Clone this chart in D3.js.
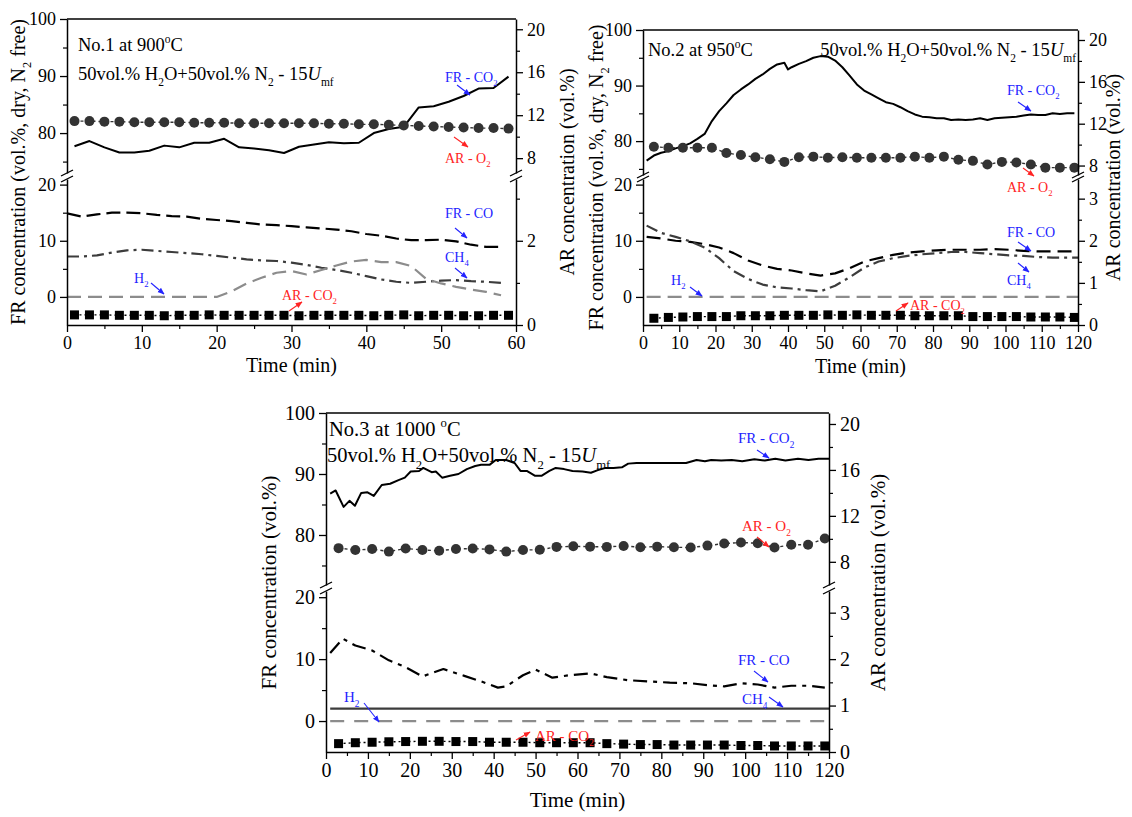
<!DOCTYPE html>
<html>
<head>
<meta charset="utf-8">
<script src="https://cdn.jsdelivr.net/npm/d3@7"></script>
<style>
  html, body { margin: 0; padding: 0; background: #fff; }
  svg { display: block; font-family: "Liberation Serif", "Times New Roman", serif; }
</style>
</head>
<body>
<svg id="fig" width="1132" height="817"></svg>
<script>
// ---------- No.1 at 900 °C ----------
const time1 = [1,3,5,7,9,11,13,15,17,19,21,23,25,27,29,31,33,35,37,39,41,43,45,47,49,51,53,55,57,59];
const fr1CO2 = [77.7,78.6,77.5,76.6,76.6,76.9,77.8,77.5,78.3,78.3,79.0,77.5,77.3,77.0,76.5,77.6,78.0,78.4,78.2,78.3,80.0,80.7,81.1,84.5,84.7,85.5,86.5,87.8,87.9,89.9];
const ar1O2 = [11.45,11.45,11.4,11.4,11.35,11.35,11.35,11.35,11.3,11.3,11.3,11.25,11.25,11.25,11.25,11.25,11.25,11.2,11.2,11.15,11.15,11.1,11.05,11.0,10.95,10.9,10.85,10.8,10.8,10.75];
const ar1CO2 = [0.24,0.24,0.24,0.23,0.23,0.23,0.22,0.23,0.23,0.24,0.23,0.23,0.23,0.23,0.23,0.22,0.23,0.23,0.23,0.23,0.22,0.23,0.24,0.22,0.23,0.23,0.22,0.22,0.23,0.23];
const time1FR = [0,2,4,6,8,10,12,14,16,18,20,22,24,26,28,30,32,34,36,38,40,42,44,46,48,50,52,54,56,58];
const fr1CO = [14.9,14.3,14.7,15.0,15.0,14.9,14.6,14.4,14.3,13.9,13.7,13.5,13.2,12.9,12.8,12.6,12.4,12.2,12.0,11.7,11.2,10.9,10.4,10.1,10.1,10.2,9.9,9.3,8.9,8.9];
const fr1CH4 = [7.2,7.2,7.4,7.9,8.3,8.4,8.2,8.0,7.8,7.6,7.3,7.0,6.7,6.5,6.4,6.1,5.7,5.2,4.8,4.3,3.7,3.1,2.7,2.5,2.7,2.9,3.0,2.8,2.7,2.5];
const fr1H2 = [0,0,0,0,0,0,0,0,0,0,0,1.0,2.4,3.4,4.3,4.6,4.0,4.8,5.6,6.3,6.6,6.2,6.2,5.5,3.2,2.4,1.8,1.3,0.9,0.3];

// ---------- No.2 at 950 °C ----------
const time2CO2 = [1,3,5,7,9,11,13,15,17,19,21,23,25,27,29,31,33,35,37,39,40,41,43,45,47,49,51,53,55,57,59,61,63,65,67,69,71,73,75,77,79,81,83,85,87,89,91,93,95,97,99,101,103,105,107,109,111,113,115,117,119];
const fr2CO2 = [76.5,77.4,77.9,78.2,78.7,79.1,79.6,80.4,81.3,83.6,85.4,86.8,88.3,89.3,90.2,91.2,92.0,93.0,93.8,94.1,92.9,93.3,93.9,94.4,95.0,95.3,95.2,94.5,93.3,91.8,90.2,89.1,88.4,87.7,87.0,86.7,86.1,85.4,84.8,84.4,84.3,84.1,84.1,83.8,83.9,83.8,83.9,84.1,83.8,84.1,84.2,84.3,84.4,84.6,84.8,84.7,84.7,85.0,84.9,85.0,85.0];
const time2AR = [3,7,11,15,19,23,27,31,35,39,43,47,51,55,59,63,67,71,75,79,83,87,91,95,99,103,107,111,115,119];
const ar2O2 = [9.8,9.7,9.7,9.7,9.7,9.2,9.0,8.8,8.6,8.35,8.8,8.85,8.75,8.8,8.75,8.75,8.75,8.75,8.85,8.75,8.85,8.55,8.45,8.1,8.35,8.3,8.1,7.8,7.8,7.8];
const ar2CO2 = [0.16,0.18,0.19,0.20,0.20,0.20,0.22,0.22,0.22,0.23,0.23,0.23,0.24,0.23,0.24,0.23,0.23,0.23,0.22,0.22,0.22,0.22,0.20,0.20,0.20,0.20,0.19,0.19,0.19,0.18];
const time2FR = [1,5,9,13,17,21,25,29,33,37,41,45,49,53,57,61,65,69,73,77,81,85,89,93,97,101,105,109,113,117,120];
const fr2CO = [10.7,10.4,10.0,9.8,9.4,8.8,7.8,6.5,5.6,5.0,4.7,4.2,3.8,4.2,5.1,6.3,6.9,7.5,7.9,8.1,8.3,8.4,8.4,8.4,8.5,8.4,8.2,8.1,8.1,8.1,8.1];
const fr2CH4 = [12.7,11.4,10.7,9.9,8.8,6.9,4.6,3.2,2.2,1.7,1.5,1.2,1.0,2.0,3.5,5.2,6.3,6.9,7.3,7.6,7.8,8.0,8.0,7.8,7.6,7.4,7.3,7.1,7.0,7.0,7.0];
const time2H2 = [1,120];
const fr2H2 = [0,0];

// ---------- No.3 at 1000 °C ----------
const time3CO2 = [1,2.3,4.2,5.6,6.9,8.4,9.9,11.4,13.3,15.3,17.3,18.8,20.2,22.2,23.2,25.2,26.2,27.7,29.6,31.6,33.6,35.6,37,39,40.5,43,45,46.4,47.9,49.9,51.4,53.3,54.8,56.8,58.8,61.2,63.2,64.7,66.7,68.6,70.6,72.1,74.1,76,78.5,82.5,85.9,88.4,90.4,91.9,94.3,96.8,99.3,102.2,104.7,107.2,109.6,112.6,115.1,117.5,120];
const fr3CO2 = [86.8,87.3,84.6,85.6,84.8,86.9,87.0,86.4,88.2,88.4,89.0,89.4,90.4,90.5,91.0,90.3,90.4,89.4,89.7,90.0,90.8,91.3,91.5,91.5,92.3,92.3,91.8,90.5,90.5,89.7,89.7,90.5,91.0,90.8,90.5,90.4,90.2,90.6,91.0,91.0,91.1,91.7,91.8,91.8,91.8,91.8,91.8,92.3,92.1,92.3,92.2,92.3,92.1,92.4,92.2,92.5,92.2,92.5,92.3,92.5,92.5];
const time3AR = [3,7,11,15,19,23,27,31,35,39,43,47,51,55,59,63,67,71,75,79,83,87,91,95,99,103,107,111,115,119];
const ar3O2 = [9.19,9.03,9.11,8.89,9.16,9.03,8.97,9.11,9.16,9.08,8.89,9.03,9.05,9.30,9.35,9.32,9.30,9.38,9.27,9.32,9.27,9.24,9.41,9.59,9.68,9.62,9.24,9.49,9.49,10.03];
const ar3CO2 = [0.18,0.20,0.21,0.22,0.225,0.23,0.23,0.225,0.225,0.21,0.21,0.21,0.20,0.20,0.20,0.20,0.18,0.17,0.16,0.16,0.15,0.15,0.15,0.15,0.14,0.14,0.13,0.13,0.13,0.13];
const time3CO = [1,4,7,11,15,19,23,28,33,37,41,43,47,50,54,58,63,67,72,77,82,87,91,95,99,103,107,111,115,119];
const fr3CO = [11.0,13.3,12.2,11.4,9.8,8.7,7.2,8.4,7.3,6.4,5.4,5.6,7.4,8.3,7.0,7.4,7.7,7.1,6.6,6.4,6.2,6.1,5.8,5.6,6.1,5.9,5.4,5.7,5.7,5.4];
const time3Flat = [1,120];
const fr3CH4 = [2.0,2.0];
const fr3H2 = [0,0];

// ---------- tick values ----------
const xTicks60 = [0,10,20,30,40,50,60];
const xMinor60 = [5,15,25,35,45,55];
const xTicks120 = [0,10,20,30,40,50,60,70,80,90,100,110,120];
const xMinor120 = [5,15,25,35,45,55,65,75,85,95,105,115];
const leftTopTicks = [80,90,100], leftTopMinor = [75,85,95];
const leftBotTicks = [0,10,20], leftBotMinor = [5,15];
const rightTopTicks = [8,12,16,20], rightTopMinor = [10,14,18];
const rightBotTicks = [0,1,2,3], rightBotMinor = [0.5,1.5,2.5];
const rightBotTicksNo1 = [0,2], rightBotMinorNo1 = [1,3];

// AR axis of the upper segment is tied to the FR axis of the same segment
const arTop = fr => 20 + (fr - 98.2) * 0.531;
// AR axis of the lower segment: FR -5..21 spans AR 0..3.47
const arBot = fr => (fr + 5) / 7.5;

const BLUE = "#2424ff", RED = "#ff2424";
const FONT = "Liberation Serif";
const intFmt = d3.format("d");

const svg = d3.select("#fig");
const defs = svg.append("defs");
[["blue", BLUE], ["red", RED]].forEach(([id, c]) => {
  defs.append("marker").attr("id", "ah-" + id)
    .attr("viewBox", "0 0 10 10").attr("refX", 9).attr("refY", 5)
    .attr("markerWidth", 7).attr("markerHeight", 7)
    .attr("markerUnits", "userSpaceOnUse").attr("orient", "auto")
    .append("path").attr("d", "M0,1L10,5L0,9Z").attr("fill", c);
});

// text with sub/superscript and italic pieces
function rich(sel, parts, size) {
  let shift = 0;
  parts.forEach(p => {
    const ts = sel.append("tspan").text(p.t);
    const target = p.sub ? size * 0.32 : p.sup ? -size * 0.42 : 0;
    if (target !== shift) { ts.attr("dy", target - shift); shift = target; }
    if (p.sub || p.sup) ts.attr("font-size", size * 0.62);
    if (p.it) ts.attr("font-style", "italic");
  });
  return sel;
}

const headerLine2 = [{t: "50vol.% H"}, {t: "2", sub: true}, {t: "O+50vol.% N"}, {t: "2", sub: true}, {t: " - 15"}, {t: "U", it: true}, {t: "mf", sub: true}];

const panels = [
  {
    id: "p1", xDomain: [0, 60], x0: 67, x1: 516, yTop: 19, yA: 173, yB: 179, yBot: 325,
    frTopLo: 73.0, xTicks: xTicks60, xMinor: xMinor60,
    rbTicks: rightBotTicksNo1, rbMinor: rightBotMinorNo1,
    fs: {tick: 18, title: 20, header: 18.5, note: 14},
    leftTitle: [{t: "FR concentration (vol.%, dry, N"}, {t: "2", sub: true}, {t: " free)"}],
    leftTitleX: 25, rightTitleX: 574, xTitleY: 372,
    headers: [
      {x: 78, y: 51, anchor: "start", parts: [{t: "No.1 at 900"}, {t: "o", sup: true}, {t: "C"}]},
      {x: 78, y: 80, anchor: "start", parts: headerLine2}
    ],
    series: [
      {kind: "line", seg: "top", axis: "L", t: time1, v: fr1CO2, stroke: "#000", w: 2},
      {kind: "dots", seg: "top", axis: "R", t: time1, v: ar1O2},
      {kind: "line", seg: "bot", axis: "L", t: time1FR, v: fr1CO, stroke: "#000", w: 2.2, dash: "14,6"},
      {kind: "line", seg: "bot", axis: "L", t: time1FR, v: fr1CH4, stroke: "#3c3c3c", w: 2.2, dash: "12,5,3,5"},
      {kind: "line", seg: "bot", axis: "L", t: time1FR, v: fr1H2, stroke: "#8c8c8c", w: 2.2, dash: "14,7"},
      {kind: "squares", seg: "bot", axis: "R", t: time1, v: ar1CO2}
    ],
    notes: [
      {x: 445, y: 82, c: "blue", parts: [{t: "FR - CO"}, {t: "2", sub: true}], a: [457, 85, 470, 95]},
      {x: 445, y: 163, c: "red", parts: [{t: "AR - O"}, {t: "2", sub: true}], a: [454, 137, 468, 147]},
      {x: 445, y: 218, c: "blue", parts: [{t: "FR - CO"}], a: [455, 228, 467, 238]},
      {x: 445, y: 262, c: "blue", parts: [{t: "CH"}, {t: "4", sub: true}], a: [455, 268, 467, 278]},
      {x: 134, y: 283, c: "blue", parts: [{t: "H"}, {t: "2", sub: true}], a: [151, 283, 164, 294]},
      {x: 282, y: 300, c: "red", parts: [{t: "AR - CO"}, {t: "2", sub: true}], a: [289, 311, 302, 302]}
    ]
  },
  {
    id: "p2", xDomain: [0, 120], x0: 643, x1: 1078, yTop: 30, yA: 175, yB: 179, yBot: 325,
    frTopLo: 73.9, xTicks: xTicks120, xMinor: xMinor120,
    rbTicks: rightBotTicks, rbMinor: rightBotMinor,
    fs: {tick: 18, title: 20, header: 18.5, note: 14},
    leftTitle: [{t: "FR concentration (vol.%, dry, N"}, {t: "2", sub: true}, {t: " free)"}],
    leftTitleX: 603, rightTitleX: 1120, xTitleY: 373,
    headers: [
      {x: 648, y: 56, anchor: "start", parts: [{t: "No.2 at 950"}, {t: "o", sup: true}, {t: "C"}]},
      {x: 1076, y: 56, anchor: "end", parts: headerLine2}
    ],
    series: [
      {kind: "line", seg: "top", axis: "L", t: time2CO2, v: fr2CO2, stroke: "#000", w: 2},
      {kind: "dots", seg: "top", axis: "R", t: time2AR, v: ar2O2},
      {kind: "line", seg: "bot", axis: "L", t: time2FR, v: fr2CO, stroke: "#000", w: 2.2, dash: "14,7"},
      {kind: "line", seg: "bot", axis: "L", t: time2FR, v: fr2CH4, stroke: "#3c3c3c", w: 2.2, dash: "12,5,3,5"},
      {kind: "line", seg: "bot", axis: "L", t: time2H2, v: fr2H2, stroke: "#8c8c8c", w: 2.2, dash: "14,7"},
      {kind: "squares", seg: "bot", axis: "R", t: time2AR, v: ar2CO2}
    ],
    notes: [
      {x: 1007, y: 95, c: "blue", parts: [{t: "FR - CO"}, {t: "2", sub: true}], a: [1018, 102, 1031, 111]},
      {x: 1007, y: 192, c: "red", parts: [{t: "AR - O"}, {t: "2", sub: true}], a: [1023, 168, 1034, 176]},
      {x: 1007, y: 237, c: "blue", parts: [{t: "FR - CO"}], a: [1018, 242, 1031, 251]},
      {x: 1007, y: 285, c: "blue", parts: [{t: "CH"}, {t: "4", sub: true}], a: [1018, 263, 1029, 272]},
      {x: 671, y: 285, c: "blue", parts: [{t: "H"}, {t: "2", sub: true}], a: [690, 287, 702, 296]},
      {x: 910, y: 310, c: "red", parts: [{t: "AR - CO"}, {t: "2", sub: true}], a: [896, 311, 908, 303]}
    ]
  },
  {
    id: "p3", xDomain: [0, 120], x0: 326, x1: 829, yTop: 413, yA: 585, yB: 591, yBot: 752,
    frTopLo: 71.8, xTicks: xTicks120, xMinor: xMinor120,
    rbTicks: rightBotTicks, rbMinor: rightBotMinor,
    fs: {tick: 20, title: 21, header: 20.5, note: 15},
    leftTitle: [{t: "FR concentration (vol.%)"}],
    leftTitleX: 276, rightTitleX: 885, xTitleY: 807,
    headers: [
      {x: 329, y: 436, anchor: "start", parts: [{t: "No.3 at 1000 "}, {t: "o", sup: true}, {t: "C"}]},
      {x: 327, y: 462, anchor: "start", parts: headerLine2}
    ],
    series: [
      {kind: "line", seg: "top", axis: "L", t: time3CO2, v: fr3CO2, stroke: "#000", w: 2},
      {kind: "dots", seg: "top", axis: "R", t: time3AR, v: ar3O2},
      {kind: "line", seg: "bot", axis: "L", t: time3CO, v: fr3CO, stroke: "#000", w: 2.2, dash: "14,6,4,6"},
      {kind: "line", seg: "bot", axis: "L", t: time3Flat, v: fr3CH4, stroke: "#3c3c3c", w: 2.2},
      {kind: "line", seg: "bot", axis: "L", t: time3Flat, v: fr3H2, stroke: "#8c8c8c", w: 2.2, dash: "14,10"},
      {kind: "squares", seg: "bot", axis: "R", t: time3AR, v: ar3CO2}
    ],
    notes: [
      {x: 738, y: 443, c: "blue", parts: [{t: "FR - CO"}, {t: "2", sub: true}], a: [757, 450, 769, 458]},
      {x: 742, y: 531, c: "red", parts: [{t: "AR - O"}, {t: "2", sub: true}], a: [757, 537, 769, 547]},
      {x: 738, y: 665, c: "blue", parts: [{t: "FR - CO"}], a: [754, 671, 768, 682]},
      {x: 742, y: 704, c: "blue", parts: [{t: "CH"}, {t: "4", sub: true}], a: [769, 697, 783, 707]},
      {x: 344, y: 702, c: "blue", parts: [{t: "H"}, {t: "2", sub: true}], a: [364, 703, 379, 722]},
      {x: 535, y: 741, c: "red", parts: [{t: "AR - CO"}, {t: "2", sub: true}], a: [516, 740, 530, 732]}
    ]
  }
];

function styleAxis(a, size) {
  a.attr("font-family", FONT).attr("font-size", size);
  a.select(".domain").attr("stroke", "#000").attr("stroke-width", 1.5);
  a.selectAll(".tick line").attr("stroke", "#000").attr("stroke-width", 1.3);
  a.selectAll(".tick text").attr("fill", "#000");
  return a;
}
function minorAxis(g, gen, tr) {
  const a = g.append("g").attr("transform", tr).call(gen);
  a.select(".domain").remove();
  a.selectAll(".tick line").attr("stroke", "#000").attr("stroke-width", 1.2);
}

function drawPanel(P) {
  const g = svg.append("g").attr("id", P.id);
  const x = d3.scaleLinear().domain(P.xDomain).range([P.x0, P.x1]);
  const yLT = d3.scaleLinear().domain([P.frTopLo, 100]).range([P.yA, P.yTop]);
  const yRT = d3.scaleLinear().domain([arTop(P.frTopLo), arTop(100)]).range([P.yA, P.yTop]);
  const yLB = d3.scaleLinear().domain([-5, 21]).range([P.yBot, P.yB]);
  const yRB = d3.scaleLinear().domain([arBot(-5), arBot(21)]).range([P.yBot, P.yB]);
  const w = P.x1 - P.x0;
  const fs = P.fs;

  // clip regions for the two segments
  defs.append("clipPath").attr("id", P.id + "-top")
    .append("rect").attr("x", P.x0).attr("y", P.yTop).attr("width", w).attr("height", P.yA - P.yTop);
  defs.append("clipPath").attr("id", P.id + "-bot")
    .append("rect").attr("x", P.x0).attr("y", P.yB).attr("width", w).attr("height", P.yBot - P.yB);

  // series
  P.series.forEach(s => {
    const ys = s.seg === "top" ? (s.axis === "L" ? yLT : yRT) : (s.axis === "L" ? yLB : yRB);
    const pts = s.t.map((t, i) => [x(t), ys(s.v[i])]);
    if (s.kind === "line") {
      g.append("path").attr("d", d3.line()(pts))
        .attr("clip-path", `url(#${P.id}-${s.seg})`)
        .attr("fill", "none").attr("stroke", s.stroke).attr("stroke-width", s.w)
        .attr("stroke-linejoin", "round").attr("stroke-dasharray", s.dash || null);
    } else if (s.kind === "dots") {
      g.append("path").attr("d", d3.line()(pts)).attr("fill", "none")
        .attr("stroke", "#333").attr("stroke-width", 1.4).attr("stroke-dasharray", "3,3");
      g.selectAll(null).data(pts).join("circle")
        .attr("cx", d => d[0]).attr("cy", d => d[1]).attr("r", 5).attr("fill", "#333");
    } else {
      g.append("path").attr("d", d3.line()(pts)).attr("fill", "none")
        .attr("stroke", "#000").attr("stroke-width", 1.4).attr("stroke-dasharray", "2,3");
      g.selectAll(null).data(pts).join("rect")
        .attr("x", d => d[0] - 4.5).attr("y", d => d[1] - 4.5)
        .attr("width", 9).attr("height", 9).attr("fill", "#000");
    }
  });

  // frame: top border
  g.append("line").attr("x1", P.x0).attr("x2", P.x1).attr("y1", P.yTop).attr("y2", P.yTop)
    .attr("stroke", "#000").attr("stroke-width", 1.5);

  // bottom axis
  styleAxis(g.append("g").attr("transform", `translate(0,${P.yBot})`)
    .call(d3.axisBottom(x).tickValues(P.xTicks).tickSize(7).tickSizeOuter(0).tickPadding(4).tickFormat(intFmt)), fs.tick);
  minorAxis(g, d3.axisBottom(x).tickValues(P.xMinor).tickSize(4).tickFormat(""), `translate(0,${P.yBot})`);

  // left axes
  styleAxis(g.append("g").attr("transform", `translate(${P.x0},0)`)
    .call(d3.axisLeft(yLT).tickValues(leftTopTicks).tickSize(7).tickSizeOuter(0).tickPadding(4).tickFormat(intFmt)), fs.tick);
  minorAxis(g, d3.axisLeft(yLT).tickValues(leftTopMinor).tickSize(4).tickFormat(""), `translate(${P.x0},0)`);
  styleAxis(g.append("g").attr("transform", `translate(${P.x0},0)`)
    .call(d3.axisLeft(yLB).tickValues(leftBotTicks).tickSize(7).tickSizeOuter(0).tickPadding(4).tickFormat(intFmt)), fs.tick);
  minorAxis(g, d3.axisLeft(yLB).tickValues(leftBotMinor).tickSize(4).tickFormat(""), `translate(${P.x0},0)`);

  // right axes
  styleAxis(g.append("g").attr("transform", `translate(${P.x1},0)`)
    .call(d3.axisRight(yRT).tickValues(rightTopTicks).tickSize(7).tickSizeOuter(0).tickPadding(4).tickFormat(intFmt)), fs.tick);
  minorAxis(g, d3.axisRight(yRT).tickValues(rightTopMinor).tickSize(4).tickFormat(""), `translate(${P.x1},0)`);
  styleAxis(g.append("g").attr("transform", `translate(${P.x1},0)`)
    .call(d3.axisRight(yRB).tickValues(P.rbTicks).tickSize(7).tickSizeOuter(0).tickPadding(4).tickFormat(intFmt)), fs.tick);
  minorAxis(g, d3.axisRight(yRB).tickValues(P.rbMinor).tickSize(4).tickFormat(""), `translate(${P.x1},0)`);

  // break marks
  [P.x0, P.x1].forEach(xx => {
    [P.yA, P.yB].forEach(yy => {
      g.append("line").attr("x1", xx - 6).attr("y1", yy + 3).attr("x2", xx + 6).attr("y2", yy - 3)
        .attr("stroke", "#000").attr("stroke-width", 1.3);
    });
  });

  // axis titles
  const midY = (P.yTop + P.yBot) / 2;
  rich(g.append("text").attr("transform", `translate(${P.leftTitleX},${midY}) rotate(-90)`)
    .attr("text-anchor", "middle").attr("font-size", fs.title).attr("font-family", FONT), P.leftTitle, fs.title);
  rich(g.append("text").attr("transform", `translate(${P.rightTitleX},${midY}) rotate(-90)`)
    .attr("text-anchor", "middle").attr("font-size", fs.title).attr("font-family", FONT),
    [{t: "AR concentration (vol.%)"}], fs.title);
  g.append("text").attr("x", (P.x0 + P.x1) / 2).attr("y", P.xTitleY)
    .attr("text-anchor", "middle").attr("font-size", fs.title).attr("font-family", FONT).text("Time (min)");

  // headers
  P.headers.forEach(h => {
    rich(g.append("text").attr("x", h.x).attr("y", h.y).attr("text-anchor", h.anchor)
      .attr("font-size", fs.header).attr("font-family", FONT), h.parts, fs.header);
  });

  // series labels with arrows
  P.notes.forEach(n => {
    const col = n.c === "blue" ? BLUE : RED;
    rich(g.append("text").attr("x", n.x).attr("y", n.y).attr("fill", col)
      .attr("font-size", fs.note).attr("font-family", FONT), n.parts, fs.note);
    g.append("line").attr("x1", n.a[0]).attr("y1", n.a[1]).attr("x2", n.a[2]).attr("y2", n.a[3])
      .attr("stroke", col).attr("stroke-width", 1.1).attr("marker-end", `url(#ah-${n.c})`);
  });
}

panels.forEach(drawPanel);
</script>
</body>
</html>
